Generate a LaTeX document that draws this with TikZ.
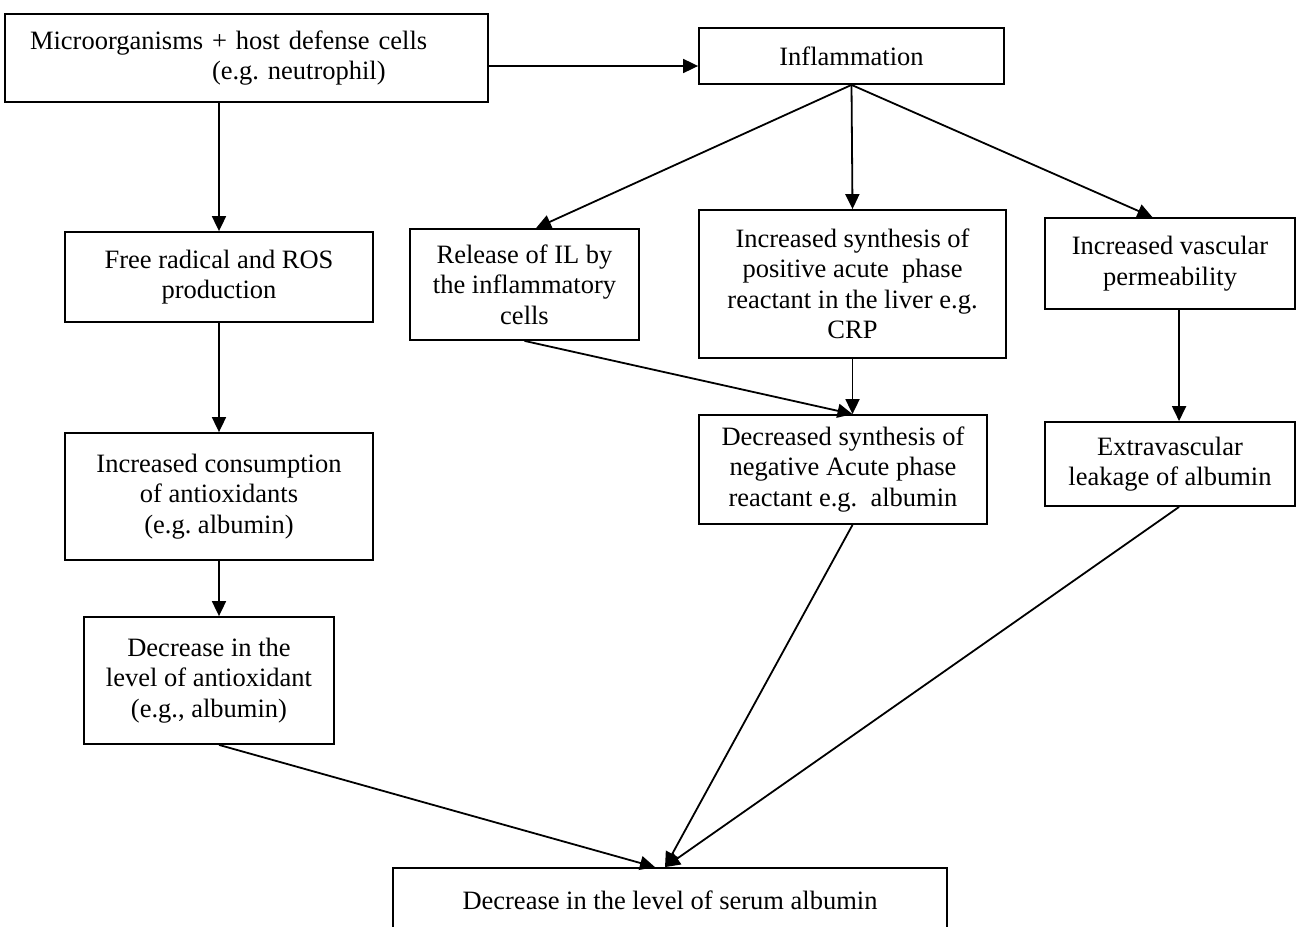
\documentclass[tikz,border=0pt]{standalone}
\usepackage{fontspec}
\setmainfont{Liberation Serif}
\usetikzlibrary{arrows.meta,calc}
\begin{document}
\frenchspacing
\begin{tikzpicture}[x=1pt,y=-1pt,
  box/.style={draw, line width=1.8pt, inner sep=0pt, align=center,
    font=\fontsize{26.5}{30.5}\selectfont\frenchspacing},
  arr/.style={line width=1.8pt, -{Triangle[length=15pt,width=14pt]}}]
\clip (0,0) rectangle (1297,926);
\fill[white] (0,0) rectangle (1297,926);

\node[box, minimum width=483pt, minimum height=88pt, text width=433pt, inner xsep=25pt, align=left] (A) at (246.5,58)
  {Microorganisms + host defense cells\\\hspace*{182pt}(e.g. neutrophil)};
\node[box, minimum width=305pt, minimum height=56pt] (Infl) at (851.5,56) {Inflammation};
\node[box, minimum width=308pt, minimum height=90pt] (Free) at (219,277)
  {Free radical and ROS\\production};
\node[box, minimum width=308pt, minimum height=127pt] (Cons) at (219,496.5)
  {Increased consumption\\of antioxidants\\(e.g. albumin)};
\node[box, minimum width=250pt, minimum height=127pt] (Dec) at (209,680.5)
  {Decrease in the\\level of antioxidant\\(e.g., albumin)};
\node[box, minimum width=229pt, minimum height=111pt] (Rel) at (524.5,284.5)
  {Release of IL by\\the inflammatory\\cells};
\node[box, minimum width=307pt, minimum height=148pt] (CRP) at (852.5,284)
  {Increased synthesis of\\positive acute~ phase\\reactant in the liver e.g.\\CRP};
\node[box, minimum width=250pt, minimum height=91pt] (Vas) at (1170,263.5)
  {Increased vascular\\permeability};
\node[box, minimum width=288pt, minimum height=109pt] (DS) at (843,469.5)
  {Decreased synthesis of\\negative Acute phase\\reactant e.g.~ albumin};
\node[box, minimum width=250pt, minimum height=84pt] (Ex) at (1170,464)
  {Extravascular\\leakage of albumin};
\node[box, minimum width=554pt, minimum height=64pt] (Bot) at (670,900)
  {Decrease in the level of serum albumin};

\coordinate (botL) at ($(Bot.north west)!0.473!(Bot.north east)$);
\coordinate (botR) at ($(Bot.north west)!0.491!(Bot.north east)$);
\coordinate (relN) at ($(Rel.north west)!0.55!(Rel.north east)$);
\coordinate (vasN) at ($(Vas.north west)!0.43!(Vas.north east)$);
\coordinate (vasS) at ($(Vas.south west)!0.536!(Vas.south east)$);
\coordinate (exS) at ($(Ex.south west)!0.536!(Ex.south east)$);

\draw[arr] (A.east |- 0,66) -- (Infl.west |- 0,66);
\draw[arr] (A.south -| Free.north) -- (Free.north);
\draw[arr] (Free.south) -- (Cons.north);
\draw[arr] (Cons.south) -- (Cons.south |- Dec.north);
\draw[arr] (Cons.south |- Dec.south) -- (botL);
\draw[arr] (Infl.south) -- (relN);
\draw[arr] (Infl.south) -- (CRP.north);
\draw[arr] (Infl.south) -- (vasN);
\draw[arr] (Rel.south) -- (CRP.south |- DS.north);
\draw[arr] (CRP.south) -- (CRP.south |- DS.north);
\draw[arr] (vasS) -- (vasS |- Ex.north);
\draw[arr] (CRP.south |- DS.south) -- (botR);
\draw[arr] (exS) -- (botR);
\end{tikzpicture}
\end{document}
